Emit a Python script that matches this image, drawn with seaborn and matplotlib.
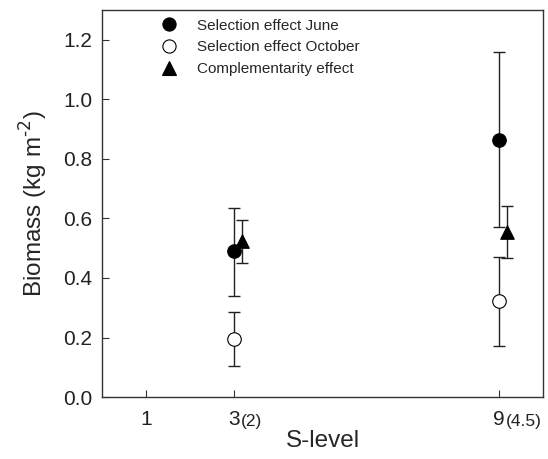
import matplotlib
matplotlib.use("Agg")
import matplotlib.pyplot as plt
from matplotlib.lines import Line2D
import seaborn as sns
import pandas as pd

# ---data---
s_levels = [3, 9]
dodge_comp = 0.18

june_mean = [0.49, 0.865]
june_low = [0.34, 0.571]
june_high = [0.635, 1.16]

oct_mean = [0.195, 0.321]
oct_low = [0.105, 0.172]
oct_high = [0.285, 0.471]

comp_mean = [0.525, 0.555]
comp_low = [0.45, 0.468]
comp_high = [0.595, 0.641]

series_names = ["Selection effect June", "Selection effect October", "Complementarity effect"]
tick_pos = [1, 3, 9]
tick_labels = ["1", "3", "9"]
tick_extra = {3: "(2)", 9: "(4.5)"}
y_ticks = [0, 0.2, 0.4, 0.6, 0.8, 1.0, 1.2]

sns.set_style("ticks")
plt.rcParams['font.family'] = ['Liberation Sans', 'DejaVu Sans']

rows = []
for name, mean, lo, hi, dx in [(series_names[0], june_mean, june_low, june_high, 0),
                               (series_names[1], oct_mean, oct_low, oct_high, 0),
                               (series_names[2], comp_mean, comp_low, comp_high, dodge_comp)]:
    for s, m, l, h in zip(s_levels, mean, lo, hi):
        rows.append(dict(series=name, x=s + dx, y=m, lo=l, hi=h))
df = pd.DataFrame(rows)

fig = plt.figure(figsize=(5.48, 4.59), dpi=100)
ax = fig.add_axes([0.186, 0.135, 0.805, 0.843])

# error bars first so markers sit on top
ax.errorbar(df.x, df.y, yerr=[df.y - df.lo, df.hi - df.y], fmt='none',
            ecolor='#222222', elinewidth=1.0, capsize=4, capthick=1.0, zorder=1)

markers = {series_names[0]: 'o', series_names[1]: 'o', series_names[2]: '^'}
faces = {series_names[0]: 'black', series_names[1]: 'white', series_names[2]: 'black'}
for name in series_names:
    sub = df[df.series == name]
    sns.scatterplot(x='x', y='y', data=sub, ax=ax, marker=markers[name], s=95,
                    color=faces[name], edgecolor='black', linewidth=0.8, zorder=3, legend=False)

ax.set_xlim(0, 10)
ax.set_ylim(0, 1.30)
ax.set_xticks(tick_pos)
ax.set_xticklabels(tick_labels, fontsize=15)
ax.set_yticks(y_ticks)
ax.set_yticklabels(['{:.1f}'.format(v) for v in y_ticks], fontsize=15)
ax.tick_params(direction='in', length=5, width=0.8, color='#333333', labelcolor='#222222')
ax.tick_params(axis='x', pad=9)
ax.tick_params(axis='y', pad=7)
for sp in ax.spines.values():
    sp.set_linewidth(1.0)
    sp.set_color('#333333')

ax.set_xlabel('S-level', fontsize=17.5, labelpad=1)
ax.set_ylabel(r'Biomass (kg m$^{\text{-2}}$)', fontsize=17.5, labelpad=9)

handles = [Line2D([], [], ls='none', marker=markers[n], markersize=9.5,
                  markerfacecolor=faces[n], markeredgecolor='black', markeredgewidth=0.8)
           for n in series_names]
ax.legend(handles, series_names, loc='upper left', frameon=False, fontsize=11,
          bbox_to_anchor=(0.1, 1.013), handletextpad=1.25, labelspacing=0.5,
          handlelength=1.2)

# small parenthetical right after the tick labels 3 and 9
fig.canvas.draw()
renderer = fig.canvas.get_renderer()
inv = fig.transFigure.inverted()
for lab in ax.get_xticklabels():
    txt = tick_extra.get(int(float(lab.get_text())))
    if txt is None:
        continue
    bb = lab.get_window_extent(renderer)
    x0, y0 = inv.transform((bb.x1 + 1, bb.y0))
    fig.text(x0, y0, txt, ha='left', va='bottom', fontsize=12.5, color='#222222')

fig.savefig('out.png', dpi=100)
